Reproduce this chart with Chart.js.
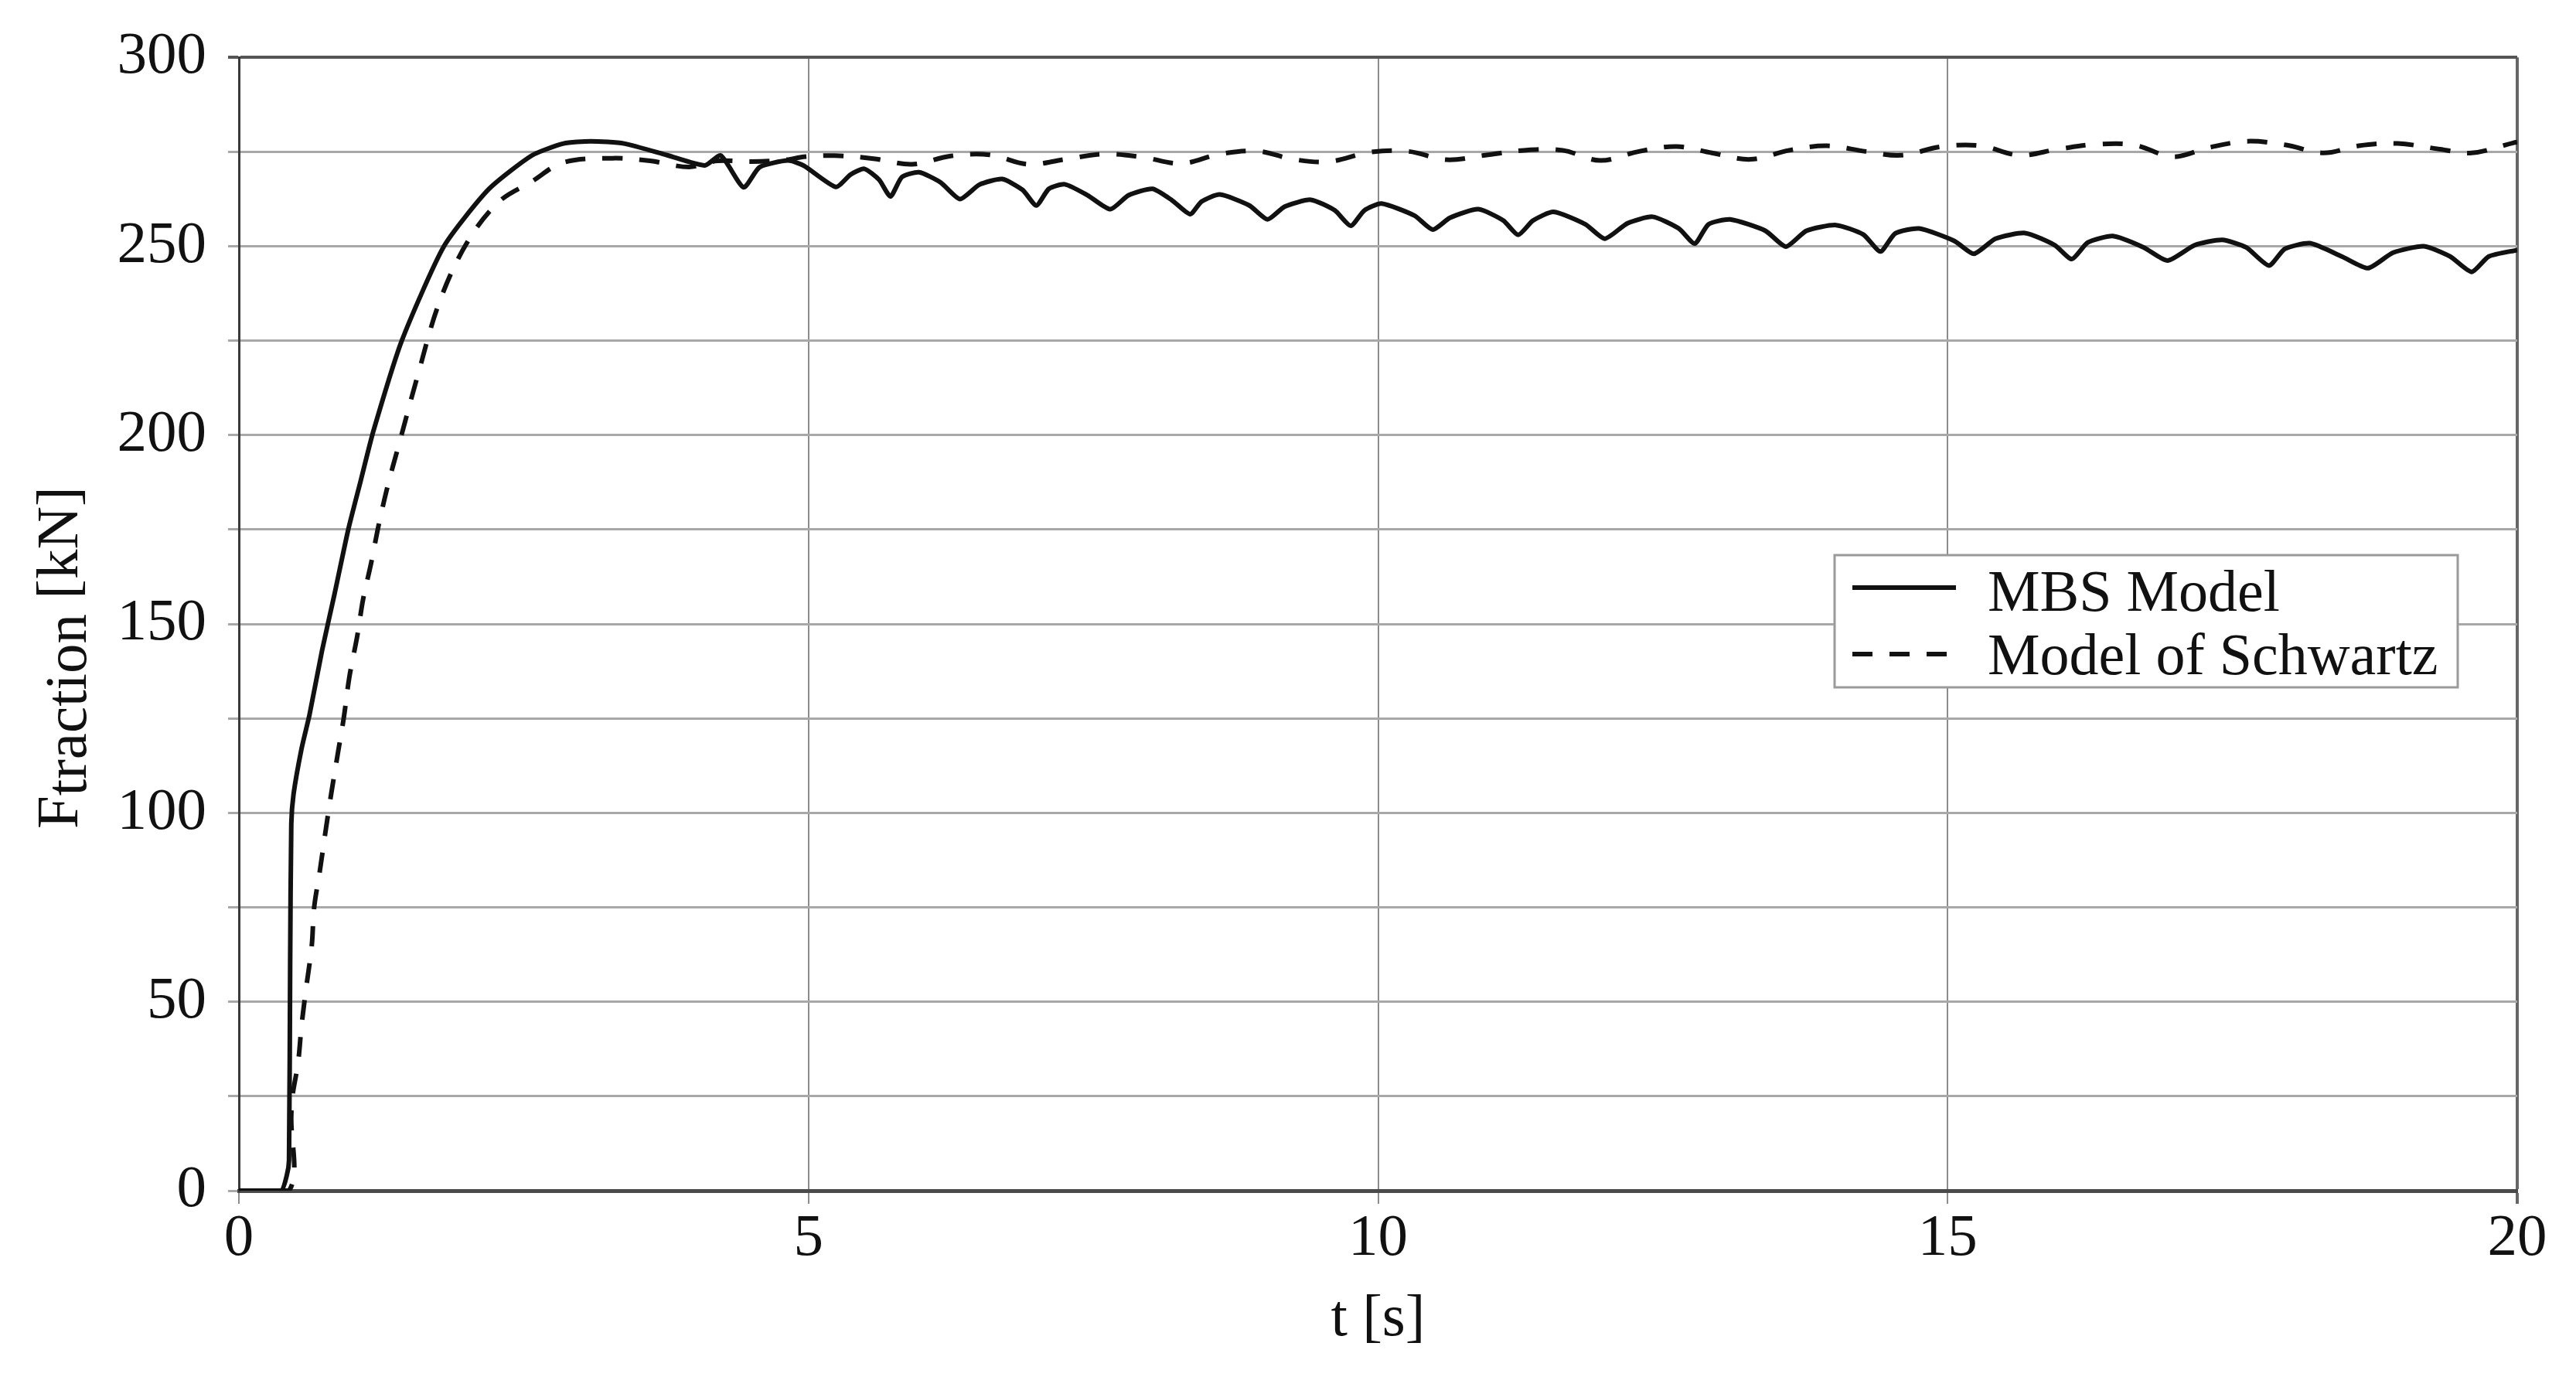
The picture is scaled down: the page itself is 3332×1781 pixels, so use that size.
<!DOCTYPE html>
<html>
<head>
<meta charset="utf-8">
<title>Traction force</title>
<script src="https://cdn.jsdelivr.net/npm/chart.js@4.4.1/dist/chart.umd.min.js"></script>
<style>
    html, body { margin: 0; padding: 0; background: #fff; }
    canvas { display: block; }
</style>
</head>
<body>
<canvas id="traction-chart" width="3332" height="1781"></canvas>
<script>
// start: data
const seriesNames = ['MBS Model', 'Model of Schwartz'];

const mbsTime = [
    0, 0.37, 0.42, 0.44, 0.45, 0.46, 0.48, 0.55, 0.62, 0.73, 0.84, 0.96, 1.07, 1.18, 1.43, 1.80,
    2.19, 2.57, 2.85, 3.09, 3.38, 3.76, 4.09, 4.23, 4.43, 4.57, 4.82, 4.96,
    5.24, 5.37, 5.49, 5.62, 5.72, 5.82, 5.97, 6.16, 6.33, 6.50, 6.70, 6.88,
    7.00, 7.11, 7.25, 7.45, 7.65, 7.81, 8.02, 8.19, 8.35, 8.45, 8.61, 8.87,
    9.03, 9.18, 9.41, 9.62, 9.76, 9.88, 10.03, 10.32, 10.48, 10.63, 10.88, 11.10,
    11.23, 11.36, 11.54, 11.82, 11.99, 12.19, 12.41, 12.64, 12.78, 12.90, 13.09, 13.40,
    13.58, 13.76, 14.02, 14.26, 14.41, 14.54, 14.75, 15.06, 15.23, 15.42, 15.68, 15.94,
    16.09, 16.23, 16.45, 16.72, 16.93, 17.17, 17.41, 17.62, 17.82, 17.96, 18.18, 18.46,
    18.69, 18.91, 19.18, 19.41, 19.60, 19.75, 20.0
];
const mbsForce = [
    0, 0, 4, 8, 60, 97, 105, 117, 126, 143, 158, 175, 188, 201, 225, 250,
    265, 274, 277.2, 277.8, 277.2, 274.1, 271.4, 274, 265.6, 270.9, 272.7, 271.3,
    265.7, 269.0, 270.5, 267.6, 263.2, 268.3, 269.6, 266.9, 262.5, 266.3, 267.8, 264.9,
    260.8, 265.2, 266.4, 263.5, 259.8, 263.5, 265.2, 262.2, 258.5, 261.8, 263.7, 260.8,
    257.1, 260.5, 262.3, 259.5, 255.4, 259.5, 261.3, 258.1, 254.4, 257.5, 259.8, 256.8,
    253.0, 256.8, 259.1, 255.8, 252.0, 256.1, 257.8, 254.7, 250.7, 255.8, 257.1, 254.1,
    249.9, 254.1, 255.6, 253.1, 248.6, 253.4, 254.7, 251.4, 248.0, 252.0, 253.5, 250.3,
    246.6, 251.0, 252.7, 249.7, 246.2, 250.3, 251.7, 249.7, 244.9, 249.3, 250.8, 247.3,
    244.2, 248.3, 250.0, 247.3, 243.2, 247.3, 249.0
];

const schwartzTime = [
    0, 0.44, 0.46, 0.47, 0.52, 0.55, 0.59, 0.64, 0.66, 0.71, 0.76, 0.81, 0.87, 0.92, 0.97, 1.04,
    1.09, 1.16, 1.23, 1.31, 1.40, 1.57, 1.76, 2.00, 2.28, 2.57, 2.85, 3.28, 3.61, 3.95,
    4.20, 4.50, 4.81, 4.96, 5.23, 5.57, 5.91, 6.25, 6.59, 6.93, 7.25, 7.59, 7.93, 8.27,
    8.61, 8.94, 9.26, 9.57, 9.93, 10.27, 10.60, 10.94, 11.28, 11.62, 11.95, 12.29, 12.62, 12.93,
    13.27, 13.61, 13.94, 14.28, 14.59, 14.95, 15.29, 15.63, 15.97, 16.31, 16.64, 16.98, 17.29, 17.63,
    17.97, 18.30, 18.61, 18.95, 19.32, 19.60, 19.97, 20.0
];
const schwartzForce = [
    0, 0, 20, 25, 34, 43.7, 53.5, 65, 74.8, 84.5, 95, 105, 116, 125, 136, 147,
    156.5, 166, 176.6, 187, 197, 215.8, 235.2, 250.8, 261.7, 267.1, 272.2, 273.3, 272.6, 271.0,
    272.6, 272.4, 272.9, 273.7, 274.0, 273.2, 271.7, 273.9, 274.2, 271.7, 273.0, 274.4, 273.6, 271.9,
    274.4, 275.2, 273.0, 272.4, 274.9, 275.1, 272.9, 274.1, 275.4, 275.4, 272.7, 275.1, 276.4, 274.7,
    273.0, 275.4, 276.6, 275.1, 274.1, 276.4, 276.6, 274.1, 275.7, 277.0, 276.8, 273.7, 276.1, 277.8,
    276.8, 274.7, 276.6, 277.2, 275.7, 274.7, 277.4, 277.6
];

const timeTicks = [0, 5, 10, 15, 20];
const forceTicks = [0, 50, 100, 150, 200, 250, 300];
// end: data

const serif = '"Liberation Serif", "DejaVu Serif", serif';
const ink = '#111';

function toPoints(xs, ys) {
    return xs.map((x, i) => ({ x: x, y: ys[i] }));
}

// white page behind everything
const paperPlugin = {
    id: 'paper',
    beforeDraw(chart) {
        const ctx = chart.ctx;
        ctx.save();
        ctx.fillStyle = '#fff';
        ctx.fillRect(0, 0, chart.width, chart.height);
        ctx.restore();
    }
};

// y title with the "traction" subscript, and the boxed legend inside the plot
const labelsPlugin = {
    id: 'labels',
    afterDraw(chart) {
        const ctx = chart.ctx;
        ctx.save();
        ctx.fillStyle = ink;
        ctx.font = '77px ' + serif;
        ctx.textAlign = 'left';
        ctx.textBaseline = 'alphabetic';
        ctx.translate(100, 1072);
        ctx.rotate(-Math.PI / 2);
        let x = 0;
        ctx.fillText('F', x, 0);
        x += ctx.measureText('F').width;
        ctx.fillText('traction', x, 11);
        x += ctx.measureText('traction').width;
        ctx.fillText(' [kN]', x, 0);
        ctx.restore();

        const box = { left: 2373, top: 718, width: 806, height: 171 };
        ctx.save();
        ctx.fillStyle = '#fff';
        ctx.fillRect(box.left, box.top, box.width, box.height);
        ctx.strokeStyle = '#9a9a9a';
        ctx.lineWidth = 3;
        ctx.strokeRect(box.left, box.top, box.width, box.height);

        const rows = [760, 846];
        const textBase = [790, 872];
        chart.data.datasets.forEach((ds, i) => {
            ctx.beginPath();
            ctx.setLineDash(ds.borderDash || []);
            ctx.strokeStyle = ds.borderColor;
            ctx.lineWidth = ds.borderWidth;
            ctx.moveTo(2396, rows[i]);
            ctx.lineTo(2530, rows[i]);
            ctx.stroke();
            ctx.setLineDash([]);
            ctx.fillStyle = ink;
            ctx.font = '76px ' + serif;
            ctx.textBaseline = 'alphabetic';
            ctx.fillText(ds.label, 2571, textBase[i]);
        });
        ctx.restore();
    }
};

const tractionChart = new Chart(document.getElementById('traction-chart'), {
    type: 'line',
    data: {
        datasets: [{
            label: seriesNames[0],
            data: toPoints(mbsTime, mbsForce),
            borderColor: ink,
            borderWidth: 6,
            tension: 0.2,
            pointRadius: 0
        }, {
            label: seriesNames[1],
            data: toPoints(schwartzTime, schwartzForce),
            borderColor: ink,
            borderWidth: 6,
            borderDash: [26, 22],
            tension: 0.35,
            pointRadius: 0
        }]
    },
    options: {
        responsive: false,
        animation: false,
        devicePixelRatio: 1,
        layout: {
            padding: { top: 64, right: 76, bottom: 0, left: 0 }
        },
        plugins: {
            legend: { display: false },
            tooltip: { enabled: false }
        },
        scales: {
            x: {
                type: 'linear',
                min: 0,
                max: 20,
                afterFit(scale) { scale.height = 241; },
                afterBuildTicks(scale) { scale.ticks = timeTicks.map(v => ({ value: v })); },
                ticks: {
                    padding: 0,
                    color: ink,
                    font: { family: serif, size: 77 }
                },
                grid: {
                    color: c => c.tick && c.tick.value === 20 ? '#666' : '#8c8c8c',
                    lineWidth: c => c.tick && c.tick.value === 20 ? 4 : 2,
                    tickLength: 17
                },
                border: { color: '#4a4a4a', width: 5 },
                title: {
                    display: true,
                    text: 't [s]',
                    color: ink,
                    font: { family: serif, size: 77 },
                    padding: { top: 0, bottom: 28 }
                }
            },
            y: {
                min: 0,
                max: 300,
                afterFit(scale) { scale.width = 309; },
                ticks: {
                    stepSize: 25,
                    padding: 28,
                    color: ink,
                    font: { family: serif, size: 77 },
                    callback: v => forceTicks.includes(v) ? String(v) : ''
                },
                grid: {
                    color: c => c.tick && c.tick.value === 300 ? '#555' : '#a8a8a8',
                    lineWidth: c => c.tick && c.tick.value === 300 ? 4 : 3,
                    tickLength: 14
                },
                border: { color: '#3a3a3a', width: 3 }
            }
        }
    },
    plugins: [paperPlugin, labelsPlugin]
});
</script>
</body>
</html>
